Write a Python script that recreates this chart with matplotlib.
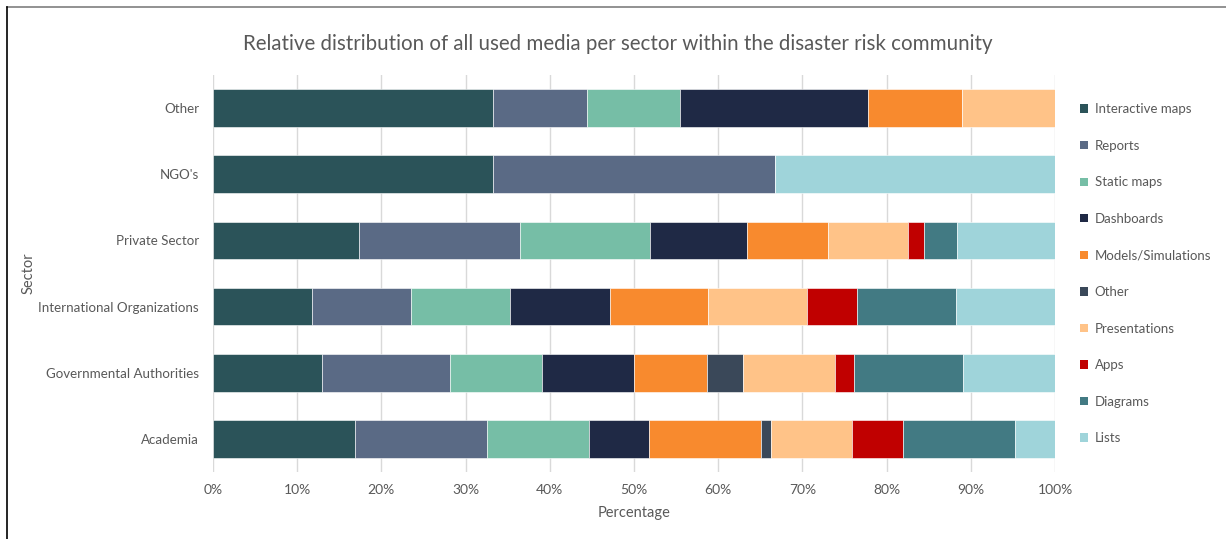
import matplotlib
matplotlib.use("Agg")
import matplotlib.pyplot as plt
from matplotlib.lines import Line2D
from matplotlib.patches import Patch
from matplotlib.ticker import PercentFormatter
import numpy as np

plt.rcParams['font.family'] = ['Lato', 'DejaVu Sans']

sectors = ["Academia", "Governmental Authorities", "International Organizations",
           "Private Sector", "NGO's", "Other"]

media = ["Interactive maps", "Reports", "Static maps", "Dashboards",
         "Models/Simulations", "Other", "Presentations", "Apps", "Diagrams", "Lists"]

# share (%) of each medium per sector, in the order of `sectors`
interactive_maps = [16.9, 13.0, 11.7, 17.3, 33.3, 33.3]
reports          = [15.7, 15.2, 11.8, 19.2, 33.4, 11.1]
static_maps      = [12.0, 10.9, 11.8, 15.4, 0.0, 11.1]
dashboards       = [7.2, 10.9, 11.8, 11.5, 0.0, 22.3]
models_sims      = [13.3, 8.7, 11.7, 9.6, 0.0, 11.1]
other_media      = [1.2, 4.3, 0.0, 0.0, 0.0, 0.0]
presentations    = [9.6, 10.9, 11.8, 9.6, 0.0, 11.1]
apps             = [6.0, 2.2, 5.9, 1.9, 0.0, 0.0]
diagrams         = [13.3, 13.0, 11.8, 3.9, 0.0, 0.0]
lists            = [4.8, 10.9, 11.7, 11.6, 33.3, 0.0]

series = [interactive_maps, reports, static_maps, dashboards, models_sims,
          other_media, presentations, apps, diagrams, lists]

colors = ["#2B5359", "#5A6A85", "#76BEA6", "#1F2945", "#F88A2E",
          "#3A4859", "#FFC388", "#C00000", "#427A83", "#9FD4DA"]

text_color = "#595959"
W, H = 1226, 539

fig = plt.figure(figsize=(W / 100, H / 100), dpi=100)
ax = fig.add_axes([213 / W, 1 - 472 / H, (1055 - 213) / W, (472 - 75) / H])

y = np.arange(len(sectors))
left = np.zeros(len(sectors))
for vals, col, name in zip(series, colors, media):
    vals = np.array(vals, dtype=float)
    ax.barh(y, vals, left=left, height=0.57, color=col, label=name,
            edgecolor="white", linewidth=0.4, zorder=3)
    left += vals

ax.set_xlim(0, 100)
ax.set_ylim(-0.5, len(sectors) - 0.5)
ax.set_xticks(np.arange(0, 101, 10))
ax.xaxis.set_major_formatter(PercentFormatter(decimals=0))
ax.set_yticks(y)
ax.set_yticklabels(sectors)
ax.grid(axis="x", color="#D9D9D9", linewidth=1.0, zorder=0)
for s in ax.spines.values():
    s.set_visible(False)
ax.tick_params(axis="both", length=0, labelcolor=text_color)
ax.tick_params(axis="x", pad=9, labelsize=10)
ax.tick_params(axis="y", pad=10, labelsize=9.6)

ax.set_xlabel("Percentage", fontsize=10.5, color=text_color, labelpad=7)
fig.text(29 / W, 1 - 273 / H, "Sector", rotation=90, ha="center", va="center",
         fontsize=10.5, color=text_color)

fig.text(618 / W, 1 - 44 / H,
         "Relative distribution of all used media per sector within the disaster risk community",
         ha="center", va="center", fontsize=14.8, color=text_color)

handles = [Patch(facecolor=c, edgecolor="none") for c in colors]
leg = fig.legend(handles, media, loc="upper left",
                 bbox_to_anchor=(1075 / W, 1 - 98 / H),
                 frameon=False, fontsize=9.5, labelcolor=text_color,
                 handlelength=0.6, handleheight=0.6, handletextpad=0.5,
                 labelspacing=1.86, borderaxespad=0)

# outer frame lines along the top and left edge
fig.add_artist(Line2D([7 / W, 1], [1 - 7 / H, 1 - 7 / H],
                      transform=fig.transFigure, color="#7F7F7F", linewidth=1.2))
fig.add_artist(Line2D([7 / W, 7 / W], [0, 1 - 7 / H],
                      transform=fig.transFigure, color="#000000", linewidth=1.2))

fig.savefig("out.png", dpi=100)
